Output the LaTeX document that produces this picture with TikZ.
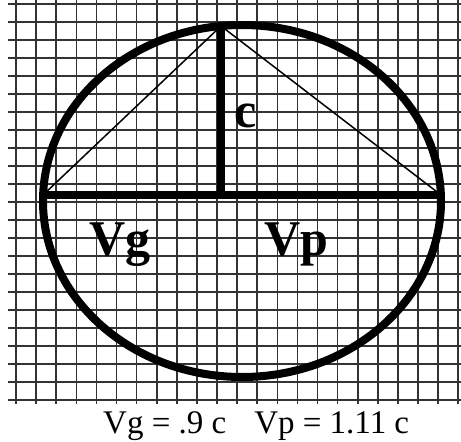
\documentclass[tikz,border=0pt]{standalone}
\usepackage{fontspec}
\setmainfont{Liberation Serif}
\begin{document}
\begin{tikzpicture}[x=1pt, y=-1pt,
    gridline/.style={line width=1.6pt, black!80},
    rim/.style={line width=8pt},
    chord/.style={line width=1.5pt},
    biglabel/.style={font=\fontsize{50}{50}\selectfont\bfseries, inner sep=0pt, anchor=base west}]
    \useasboundingbox (0,0) rectangle (461,442);
    \foreach \k in {0,...,22} {
        \draw[gridline] ({16+20.1*\k}, 0) -- ({16+20.1*\k}, 404);
        \draw[gridline] (8, {3.7+18*\k}) -- (461, {3.7+18*\k});
    }

    \draw[rim] (242, 201) ellipse [x radius=199, y radius=176];

    \coordinate (top) at (221, 26);
    \coordinate (foot) at (221, 195);
    \coordinate (left) at (43, 195);
    \coordinate (right) at (441, 195);

    \draw[rim] (left) -- (right);
    \draw[rim] (top) -- (foot);
    \draw[chord] (left) -- (top) -- (right);

    \node[biglabel] (clabel) at (234, 127) {c};
    \node[biglabel] (vglabel) at (89, 255) {Vg};
    \node[biglabel] (vplabel) at (264, 255) {Vp};

    \node[anchor=base west, inner sep=0pt, font=\fontsize{33}{33}\selectfont] (speeds) at (103, 433)
        {Vg = .9 c\hspace{28pt}Vp = 1.11 c};
\end{tikzpicture}
\end{document}
